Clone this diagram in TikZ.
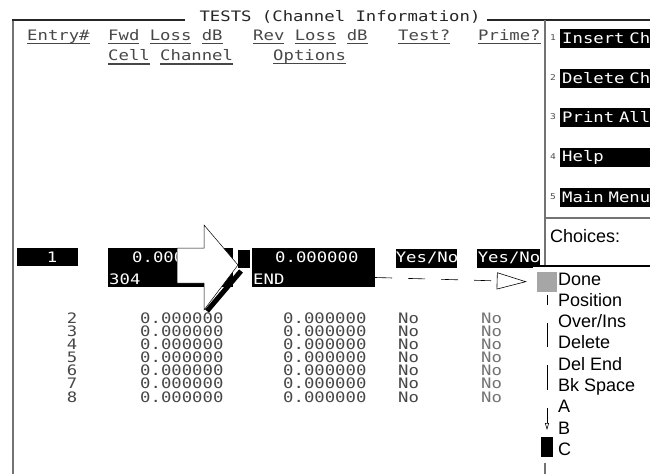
\documentclass[tikz,border=0pt]{standalone}
\usepackage{fontspec}
\setmainfont{Liberation Sans}
\newfontfamily\scrfont[FakeStretch=1.2]{DejaVu Sans Mono}
\usetikzlibrary{arrows.meta}
\newcommand\myul[1]{\setbox0\hbox{#1}\rlap{\rule[-4pt]{\wd0}{1.6pt}}\box0\relax}
\begin{document}
\begin{tikzpicture}[x=1pt,y=-1pt,
  scrtext/.style={font=\scrfont\fontsize{14.4}{15}\selectfont, text=black!72, inner sep=0pt, anchor=west},
  blkbox/.style={fill=black, inner sep=0pt},
  invtext/.style={scrtext, text=white},
  softkey/.style={fill=black, text=white, font=\scrfont\fontsize{14.4}{15}\selectfont, anchor=west, inner xsep=2pt, inner ysep=0pt, minimum height=19pt, minimum width=100pt, text width=96pt},
  keynum/.style={font=\scrfont\fontsize{8}{8}\selectfont, text=black!70, inner sep=0pt},
  menuitem/.style={font=\fontsize{18}{20}\selectfont, anchor=base west, inner sep=0pt},
  frameline/.style={draw=black!55, line width=2pt},
  scrollmark/.style={draw=black, line width=0.6pt}
]
\useasboundingbox (0,0) rectangle (650,474);
% frame
\draw[frameline] (13,474) -- (13,20);
\draw[line width=1.4pt, black!85] (12,20) -- (185,20);
\node[scrtext, anchor=center, text=black!85] (title) at (340,17) {TESTS (Channel Information)};
\draw[line width=1.4pt, black!85] (487,20) -- (650,20);
\draw[frameline] (545,20) -- (545,474);
\draw[frameline] (545,218) -- (650,218);
% headers
\node[scrtext] (hentry) at (27,37) {\myul{Entry\#}};
\node[scrtext] (hfwd) at (108,37) {\myul{Fwd} \myul{Loss} \myul{dB}};
\node[scrtext] (hrev) at (253,37) {\myul{Rev} \myul{Loss} \myul{dB}};
\node[scrtext] (htest) at (398,37) {\myul{Test?}};
\node[scrtext] (hprime) at (478,37) {\myul{Prime?}};
\node[scrtext] (hcell) at (108,57) {\myul{Cell} \myul{Channel}};
\node[scrtext] (hopt) at (273,57) {\myul{Options}};
% soft keys
\foreach \i/\t/\y in {1/Insert Ch/38, 2/Delete Ch/78, 3/Print All/117, 4/Help/157, 5/Main Menu/197}{
  \node[softkey] (sk\i) at (560,\y) {\t};
  \node[keynum] (kn\i) at (553,\y) {\i};
}
\node[font=\fontsize{18}{20}\selectfont, anchor=west, inner sep=0pt] (choices) at (550,236) {Choices:};
% row 1
\node[blkbox, minimum width=61pt, minimum height=18pt] (e1) at (47.5,257) {};
\node[invtext, anchor=center] (e1t) at (52,257) {1};
\node[blkbox, minimum width=125pt, minimum height=39pt] (f1) at (170.5,267.5) {};
\node[invtext] (f1a) at (132,257) {0.000000};
\node[invtext] (f1b) at (109,279) {304};
\node[blkbox, minimum width=123pt, minimum height=39pt] (rev1) at (313.5,267.5) {};
\node[invtext] (r1a) at (275,257) {0.000000};
\node[invtext] (r1b) at (253,279) {END};
\node[blkbox, minimum width=61pt, minimum height=19pt] (t1) at (426.5,258) {};
\node[invtext, anchor=center] (t1t) at (427,258) {Yes/No};
\node[blkbox, minimum width=63pt, minimum height=19pt] (p1) at (508.5,258) {};
\node[invtext, anchor=center] (p1t) at (509,258) {Yes/No};
% rows 2-8
\foreach \n/\y in {2/318,3/331,4/344,5/357,6/370,7/383,8/397}{
  \node[scrtext, anchor=center] (en\n) at (72,\y) {\n};
  \node[scrtext] (fw\n) at (140,\y) {0.000000};
  \node[scrtext] (rv\n) at (283,\y) {0.000000};
  \node[scrtext] (ts\n) at (398,\y) {No};
  \node[scrtext, text=black!55] (pr\n) at (481,\y) {No};
}
% big arrow
\fill (238,250) rectangle (250,268);
\draw[fill=white, line width=0.5pt, line join=miter] (177,248) -- (204,248) -- (204,225) -- (238,265) -- (204,310) -- (204,283) -- (177,283) -- cycle;
\draw[line width=5pt] (241,271) -- (207,311);
% popup
\fill[white] (533,266) rectangle (650,463);
\draw[line width=2.2pt] (533,266) -- (650,266);
\node[fill=black!35, minimum size=20pt, inner sep=0pt] (donesq) at (547,282) {};
\foreach \t [count=\k from 0] in {Done,Position,Over/Ins,Delete,Del End,Bk Space,A,B,C}{
  \node[menuitem] (mi\k) at (558,285+21.3*\k) {\t};
}
\draw[scrollmark] (547,295) -- (547,305);
\draw[scrollmark] (547,323) -- (547,347);
\draw[scrollmark] (547,365) -- (547,390);
\draw[scrollmark, -{Triangle[open,length=7pt,width=4pt]}] (547,408) -- (547,430);
\fill (541,437) rectangle (553,457);
% connector
\draw[line width=0.6pt, dash pattern=on 17pt off 16pt, -{Triangle[open,length=30pt,width=17pt]}, shorten >=10pt] ([yshift=-10pt]rev1.east) -- (donesq.west);
\end{tikzpicture}
\end{document}
